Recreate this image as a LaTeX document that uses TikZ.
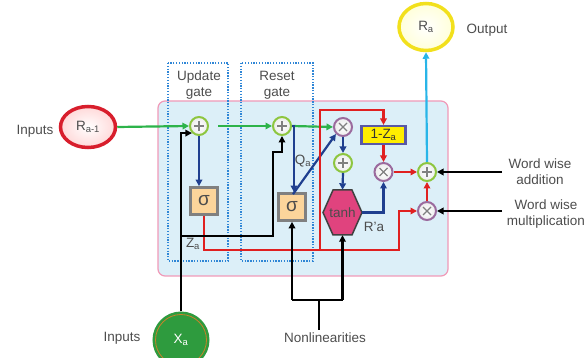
\documentclass[tikz,border=0pt]{standalone}
\usepackage{fontspec}
\setmainfont{Liberation Sans}
\usetikzlibrary{arrows.meta,calc,shapes.geometric}
\definecolor{txt}{HTML}{4D4D4D}
\definecolor{lgreen}{HTML}{2DB34A}
\definecolor{navy}{HTML}{1F3F8F}
\definecolor{rred}{HTML}{E02020}
\definecolor{pgreen}{HTML}{8DC63F}
\definecolor{tpurple}{HTML}{9B6B9E}
\definecolor{sigfill}{HTML}{FCD59B}
\definecolor{tanhpink}{HTML}{E0437E}
\definecolor{yel}{HTML}{FFEE00}
\definecolor{boxblue}{HTML}{DCEFF8}
\definecolor{boxpink}{HTML}{F09AB8}
\definecolor{dotblue}{HTML}{2F86D6}
\definecolor{skyblue}{HTML}{29B5E8}
\definecolor{xgreen}{HTML}{2E9B3E}
\definecolor{ringorange}{HTML}{C8822A}
\definecolor{redring}{HTML}{D81E2C}
\definecolor{yelring}{HTML}{F2E01C}
\begin{document}
\begin{tikzpicture}[x=1pt,y=-1pt,
  font=\fontsize{13.5}{15}\selectfont,
  every node/.style={text=txt},
  tip/.style={-{Triangle[length=6.5pt,width=6.5pt]}},
  grn/.style={draw=lgreen, line width=2.2pt, tip},
  nav/.style={draw=navy, line width=2.2pt, tip},
  rd/.style={draw=rred, line width=2.2pt, tip},
  blk/.style={draw=black, line width=2.2pt, tip},
  blkl/.style={draw=black, line width=2.2pt},
  plusnode/.style={circle, draw=pgreen, line width=2pt, inner color=white, outer color=gray!15, minimum size=18pt, inner sep=0pt,
    path picture={\draw[gray, line width=1.1pt]
      ([xshift=-5pt]path picture bounding box.center) -- ([xshift=5pt]path picture bounding box.center)
      ([yshift=-5pt]path picture bounding box.center) -- ([yshift=5pt]path picture bounding box.center);}},
  timesnode/.style={circle, draw=tpurple, line width=2pt, inner color=white, outer color=gray!15, minimum size=18pt, inner sep=0pt,
    path picture={\draw[gray, line width=1.1pt]
      ([shift={(-4pt,-4pt)}]path picture bounding box.center) -- ([shift={(4pt,4pt)}]path picture bounding box.center)
      ([shift={(-4pt,4pt)}]path picture bounding box.center) -- ([shift={(4pt,-4pt)}]path picture bounding box.center);}},
  sigbox/.style={rectangle, fill=sigfill, draw=gray, line width=3.2pt, minimum size=26.5pt, inner sep=0pt, font=\fontsize{19}{19}\selectfont},
  gatebox/.style={draw=dotblue, line width=1.6pt, dash pattern=on 1.3pt off 1.5pt},
]
\useasboundingbox (0,0) rectangle (587,358);
% main box
\draw[fill=boxblue, draw=boxpink, line width=1.2pt, rounded corners=7pt] (158,101) rectangle (448,276);
% gate boxes
\draw[gatebox] (168,63) rectangle (228,261);
\draw[gatebox] (241,63) rectangle (313,261);
\node[align=center, font=\fontsize{13.5}{16}\selectfont] (ug) at (199,85) {Update\\gate};
\node[align=center, font=\fontsize{13.5}{16}\selectfont] (rg) at (277,85) {Reset\\gate};

% input / output ellipses
\node[ellipse, draw=redring, line width=3.5pt, inner color=white, outer color=pink!60, minimum width=55pt, minimum height=41pt, inner sep=0pt] (rm) at (88,127) {R\textsubscript{a-1}};
\node (in1) at (35,131) {Inputs};
\node[ellipse, draw=yelring, line width=3.5pt, inner color=white, outer color=yellow!15, minimum width=54pt, minimum height=47pt, inner sep=0pt] (ra) at (426,27) {R\textsubscript{a}};
\node (out) at (487,30) {Output};
\node[circle, fill=xgreen, draw=xgreen, line width=2pt, minimum size=55pt, inner sep=0pt, text=white] (xa) at (181,340) {X\textsubscript{a}};
\draw[ringorange, line width=0.8pt] (xa.center) circle[radius=25.5pt];
\node (in2) at (122,338) {Inputs};
\node (nl) at (325,338) {Nonlinearities};

% operators
\node[plusnode] (p1) at (199,126) {};
\node[plusnode] (p2) at (282,126) {};
\node[timesnode] (t1) at (343,127) {};
\node[plusnode] (p3) at (343,163) {};
\node[timesnode] (t2) at (383.5,172) {};
\node[plusnode] (p4) at (427,172) {};
\node[timesnode] (t3) at (427,211) {};
\node[sigbox] (s1) at (204,201) {σ};
\node[sigbox] (s2) at (292,207) {σ};
\node[rectangle, fill=yel, draw=gray!70!blue, line width=2.2pt, minimum width=44pt, minimum height=18pt, inner sep=0pt, text=black!80] (oz) at (383.5,135) {1-Z\textsubscript{a}};
\draw[fill=tanhpink, draw=black!75, line width=1.5pt] (323,212.5) -- (333,190) -- (352,190) -- (362,212.5) -- (352,235) -- (333,235) -- cycle;
\node[minimum width=39pt, minimum height=45pt, inner sep=0pt, text=black!70] (tanh) at (342.5,212.5) {tanh};

% labels
\node (qa) at (303,161) {Q\textsubscript{a}};
\node (za) at (193,244) {Z\textsubscript{a}};
\node (rp) at (374,227) {R'a};
\node[align=center, font=\fontsize{13.5}{16}\selectfont] (wa) at (540,172) {Word wise\\addition};
\node[align=center, font=\fontsize{13.5}{16}\selectfont] (wm) at (546,214) {Word wise\\multiplication};

% green connectors
\draw[grn] (rm.east) -- (p1.west);
\draw[grn, shorten <=9pt] (p1.east) -- (p2.west);
\draw[grn] (p2.east) -- (t1.west);

% navy connectors
\draw[nav] (p1.south) -- (p1.south |- s1.north);
\coordinate (s2in) at ($(s2.north)+(2,0)$);
\draw[nav] (p2.east) -| (s2in);
\coordinate (s2out) at ($(s2.north)+(1,2)$);
\draw[nav] (s2out) -- (t1.south west);
\draw[nav] (t1.south) -- (p3.north);
\draw[nav] (p3.south) -- (tanh.north);
\draw[nav] (tanh.east) -| (t2.south);

% red connectors
\coordinate (rc) at (399,250);
\draw[rd] (s1.south) |- (rc) |- (t3.west);
\coordinate (rj) at (320,250);
\coordinate (rt) at (320,110);
\draw[rd] (rj) -- (rt) -| (oz.north);
\draw[rd] (oz.south) -- (t2.north);
\draw[rd] (t2.east) -- (p4.west);
\draw[rd] (t3.north) -- (p4.south);

% output
\draw[draw=skyblue, line width=2.2pt, tip] (p4.north) -- (ra.south);

% black connectors
\draw[blk] (xa.north) |- (p1.south west);
\coordinate (bj) at (181,236);
\coordinate (bk) at (273,152);
\draw[blk] (bj) -| (bk) -| (p2.south);
\coordinate (bl) at (292,300);
\coordinate (br) at (342.5,300);
\coordinate (bs) at (319,300);
\draw[blk] (bl) -- (s2.south);
\draw[blk] (br) -- (tanh.south);
\draw[blkl] (bl) -- (br);
\draw[blkl] (bs) -- (bs |- nl.north);
\coordinate (wae) at (502,172);
\coordinate (wme) at (502,211);
\draw[blk] (wae) -- (p4.east);
\draw[blk] (wme) -- (t3.east);
\end{tikzpicture}
\end{document}
